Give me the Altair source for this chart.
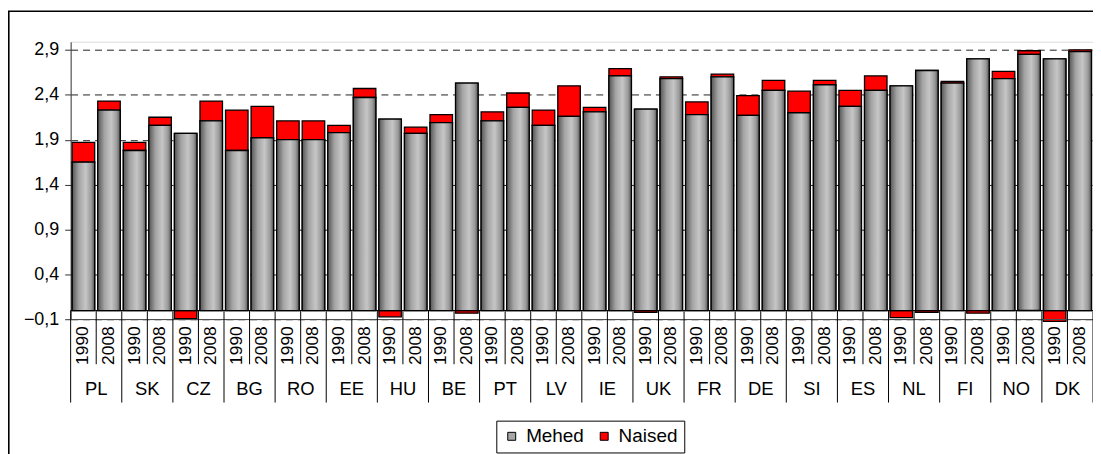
import altair as alt
import pandas as pd

# ---------------- data ----------------
countries = ["PL", "SK", "CZ", "BG", "RO", "EE", "HU", "BE", "PT", "LV",
             "IE", "UK", "FR", "DE", "SI", "ES", "NL", "FI", "NO", "DK"]
years = ["1990", "2008"]
series = ["Mehed", "Naised"]

mehed_1990 = [1.65, 1.78, 1.97, 1.78, 1.90, 1.98, 2.13, 2.09, 2.11, 2.06,
              2.21, 2.24, 2.18, 2.17, 2.20, 2.27, 2.50, 2.53, 2.58, 2.80]
naised_1990 = [0.22, 0.09, -0.09, 0.45, 0.21, 0.08, -0.07, 0.09, 0.10, 0.17,
               0.05, -0.02, 0.14, 0.22, 0.24, 0.18, -0.08, 0.02, 0.08, -0.12]
mehed_2008 = [2.23, 2.06, 2.11, 1.92, 1.90, 2.37, 1.97, 2.53, 2.26, 2.16,
              2.61, 2.58, 2.60, 2.45, 2.51, 2.45, 2.67, 2.80, 2.85, 2.88]
naised_2008 = [0.10, 0.09, 0.22, 0.35, 0.21, 0.10, 0.07, -0.03, 0.16, 0.34,
               0.08, 0.02, 0.03, 0.11, 0.05, 0.16, -0.02, -0.03, 0.04, 0.02]

y_ticks = [-0.1, 0.4, 0.9, 1.4, 1.9, 2.4, 2.9]
y_domain = [-0.1, 2.99]

# ---------------- tables ----------------
rows = []
for i, c in enumerate(countries):
    for yr, m, n in ((years[0], mehed_1990[i], naised_1990[i]),
                     (years[1], mehed_2008[i], naised_2008[i])):
        key = f"{c}|{yr}"
        rows.append(dict(key=key, country=c, year=yr, series="Mehed", value=m, ord=0))
        rows.append(dict(key=key, country=c, year=yr, series="Naised", value=n, ord=1))
df = pd.DataFrame(rows)
keys = list(dict.fromkeys(df["key"]))

single = df[df["series"] == "Mehed"].reset_index(drop=True)
country_df = pd.DataFrame({"country": countries,
                           "key": [f"{c}|{years[1]}" for c in countries]})
long_sep = pd.DataFrame({"key": [f"{c}|{years[0]}" for c in countries]})
short_sep = pd.DataFrame({"key": [f"{c}|{years[1]}" for c in countries]})
end_sep = pd.DataFrame({"key": [keys[-1]]})

FONT = "Liberation Sans"
W = 1028
H = 279.3

xs = alt.Scale(domain=keys, paddingInner=0, paddingOuter=0)
ys = alt.Scale(domain=y_domain, nice=False, zero=False)

X = alt.X("key:N", scale=xs, axis=None, title=None)

gray_grad = alt.Gradient(
    gradient="linear",
    stops=[alt.GradientStop(color="#555555", offset=0),
           alt.GradientStop(color="#a4a4a4", offset=0.3),
           alt.GradientStop(color="#c6c6c6", offset=0.6),
           alt.GradientStop(color="#9a9a9a", offset=0.85),
           alt.GradientStop(color="#555555", offset=1)],
    x1=0, x2=1, y1=0, y2=0)

y_axis = alt.Axis(values=y_ticks, grid=True, gridDash=[7, 5], gridColor="#202020",
                  gridWidth=1, domainColor="#404040", tickColor="#303030", tickSize=6,
                  labelFont=FONT, labelFontSize=18, labelColor="black", labelPadding=6,
                  labelExpr="replace(format(datum.value, '.1f'), '.', ',')",
                  title=None)

stacked = alt.Chart(df).mark_bar(
    width=alt.RelativeBandSize(0.88), stroke="black", strokeWidth=1.3
).encode(
    x=X,
    y=alt.Y("value:Q", stack="zero", scale=ys, axis=y_axis),
    color=alt.Color("series:N",
                    scale=alt.Scale(domain=series, range=["#a6a6a6", "#ff0000"]),
                    legend=alt.Legend(orient="none", legendX=428, legendY=381,
                                      direction="horizontal", title=None,
                                      labelFont=FONT, labelFontSize=19, labelColor="black",
                                      symbolType="square", symbolSize=64,
                                      symbolStrokeColor="black", symbolStrokeWidth=1,
                                      padding=6, strokeColor="black", fillColor="white",
                                      columnPadding=10, labelOffset=5)),
    order=alt.Order("ord:Q"),
)

gray_overlay = alt.Chart(single).mark_bar(
    width=alt.RelativeBandSize(0.88), stroke="black", strokeWidth=1.3, fill=gray_grad
).encode(
    x=X,
    y=alt.Y("value:Q", scale=ys),
)

zero_rule = alt.Chart(pd.DataFrame({"v": [0.0]})).mark_rule(
    color="black", strokeWidth=1.2
).encode(y=alt.Y("v:Q", scale=ys))

bottom_rule = alt.Chart(pd.DataFrame({"v": [y_domain[0]]})).mark_rule(
    color="#505050", strokeWidth=1
).encode(y=alt.Y("v:Q", scale=ys))

short_lines = alt.Chart(short_sep).mark_rule(color="black", strokeWidth=1).encode(
    x=alt.X("key:N", scale=xs, axis=None, bandPosition=0),
    y=alt.datum(0.0),
    y2=alt.value(324.3),
)
long_lines = alt.Chart(long_sep).mark_rule(color="black", strokeWidth=1).encode(
    x=alt.X("key:N", scale=xs, axis=None, bandPosition=0),
    y=alt.datum(0.0),
    y2=alt.value(362.8),
)
end_line = alt.Chart(end_sep).mark_rule(color="black", strokeWidth=1).encode(
    x=alt.X("key:N", scale=xs, axis=None, bandPosition=1),
    y=alt.datum(0.0),
    y2=alt.value(362.8),
)

year_text = alt.Chart(single).mark_text(
    angle=270, font=FONT, fontSize=17.5, color="black", align="center", baseline="middle"
).encode(
    x=X,
    y=alt.value(305.5),
    text="year:N",
)

country_text = alt.Chart(country_df).mark_text(
    font=FONT, fontSize=18.5, color="black", align="center", baseline="middle"
).encode(
    x=alt.X("key:N", scale=xs, axis=None, bandPosition=0),
    y=alt.value(349.5),
    text="country:N",
)

outer_border = alt.Chart(pd.DataFrame({"a": [0]})).mark_rect(
    filled=False, stroke="black", strokeWidth=1.6, clip=False
).encode(
    x=alt.value(-62.2), x2=alt.value(W + 200),
    y=alt.value(-30.7), y2=alt.value(H + 300),
)

chart = alt.layer(
    outer_border, stacked, gray_overlay, bottom_rule, zero_rule,
    short_lines, long_lines, end_line, year_text, country_text
).properties(
    width=W, height=H,
    autosize=alt.AutoSizeParams(type="none"),
    padding={"left": 63, "top": 32.7, "right": 0, "bottom": 134},
).configure_view(
    stroke="#808080", strokeWidth=1
).configure(background="white")

chart.save("out.html", embed_options={"renderer": "svg", "actions": False})
